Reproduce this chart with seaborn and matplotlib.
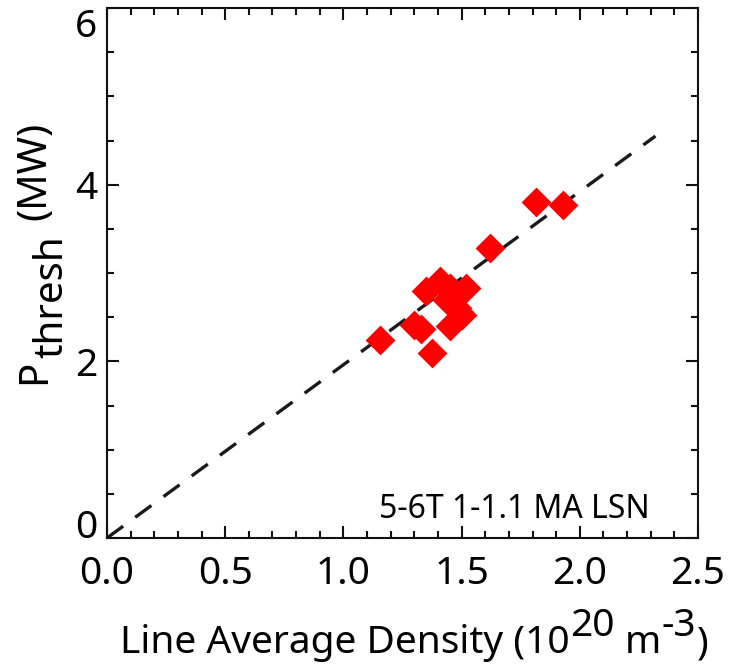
import matplotlib
matplotlib.use("Agg")
import matplotlib.pyplot as plt
import seaborn as sns
import pandas as pd
from matplotlib.ticker import MultipleLocator, FormatStrFormatter

# ---- Data ----
density = [1.155, 1.375, 1.30, 1.33, 1.35, 1.41, 1.45, 1.52, 1.48, 1.45, 1.50, 1.44, 1.62, 1.815, 1.93]
p_thresh = [2.24, 2.09, 2.41, 2.37, 2.80, 2.91, 2.83, 2.83, 2.60, 2.40, 2.52, 2.70, 3.28, 3.80, 3.77]
fit_x = [0.0, 2.32]
fit_y = [0.0, 4.55]
label_text = "5-6T 1-1.1 MA LSN"

df = pd.DataFrame({"n": density, "P": p_thresh})
fit = pd.DataFrame({"n": fit_x, "P": fit_y})

# ---- Style ----
sns.set_style("ticks")
plt.rcParams["font.family"] = ["Noto Sans", "DejaVu Sans"]
plt.rcParams["text.color"] = "black"

W, H = 729, 664
fig = plt.figure(figsize=(W / 100, H / 100), dpi=100)
ax = fig.add_axes([107 / W, (H - 538) / H, 591 / W, 530 / H])

sns.lineplot(data=fit, x="n", y="P", ax=ax, color="#1a1a1a", lw=2.4,
             linestyle=(0, (6, 4.5)))
sns.scatterplot(data=df, x="n", y="P", ax=ax, marker="D", color="red",
                s=230, linewidth=0, zorder=3)

ax.set_xlim(0, 2.5)
ax.set_ylim(0, 6)
ax.xaxis.set_major_locator(MultipleLocator(0.5))
ax.xaxis.set_minor_locator(MultipleLocator(0.1))
ax.yaxis.set_major_locator(MultipleLocator(2))
ax.yaxis.set_minor_locator(MultipleLocator(0.5))
ax.xaxis.set_major_formatter(FormatStrFormatter("%.1f"))
ax.yaxis.set_major_formatter(FormatStrFormatter("%d"))

for s in ax.spines.values():
    s.set_visible(True)
    s.set_linewidth(1.5)
    s.set_color("#111111")
ax.tick_params(which="both", direction="in", top=True, right=True,
               width=1.5, color="#111111", labelcolor="black")
ax.tick_params(which="major", length=8.5, labelsize=28, pad=7)
ax.tick_params(which="minor", length=5)
ax.tick_params(axis="x", which="major", pad=12)
ax.set_xlabel("")
ax.set_ylabel("")

# end labels of the y axis stay inside the frame, as in the reference
for loc, tick in zip(ax.yaxis.get_majorticklocs(), ax.yaxis.get_major_ticks()):
    if loc == 0:
        tick.label1.set_va("baseline")
    elif loc == 6:
        tick.label1.set_va("top")

ax.text(2.297, 0.226, label_text, ha="right", va="baseline", fontsize=23)


def chain(prev, s, size, dx=0, dy=0, vertical=False):
    if vertical:
        return ax.annotate(s, xy=(0, 1), xycoords=prev, xytext=(dx, dy),
                           textcoords="offset points", rotation=90,
                           ha="left", va="bottom", fontsize=size,
                           annotation_clip=False)
    return ax.annotate(s, xy=(1, 0), xycoords=prev, xytext=(dx, dy),
                       textcoords="offset points", ha="left", va="bottom",
                       fontsize=size, annotation_clip=False)


# x label with full-size raised exponents
xs = 28
x1 = fig.text(120 / W, 11 / H, "Line Average Density (10", fontsize=xs,
              ha="left", va="baseline")
x2 = chain(x1, "20", xs, dx=0.5, dy=12)
x3 = chain(x2, "m", xs, dx=0.26 * xs, dy=-12)
x4 = chain(x3, "-3", xs, dx=0.5, dy=12)
x5 = chain(x4, ")", xs, dx=0.5, dy=-12)

# y label: P with a lowered, full-size "thresh"
ys = 29
y1 = fig.text(45 / W, 280 / H, "P", rotation=90, rotation_mode="anchor",
              ha="left", va="baseline", fontsize=ys)
y2 = chain(y1, "thresh", ys, dx=12.5, dy=1, vertical=True)
y3 = chain(y2, "(MW)", ys, dx=-12.5, dy=0.4 * ys, vertical=True)

fig.savefig("out.png", dpi=100)
